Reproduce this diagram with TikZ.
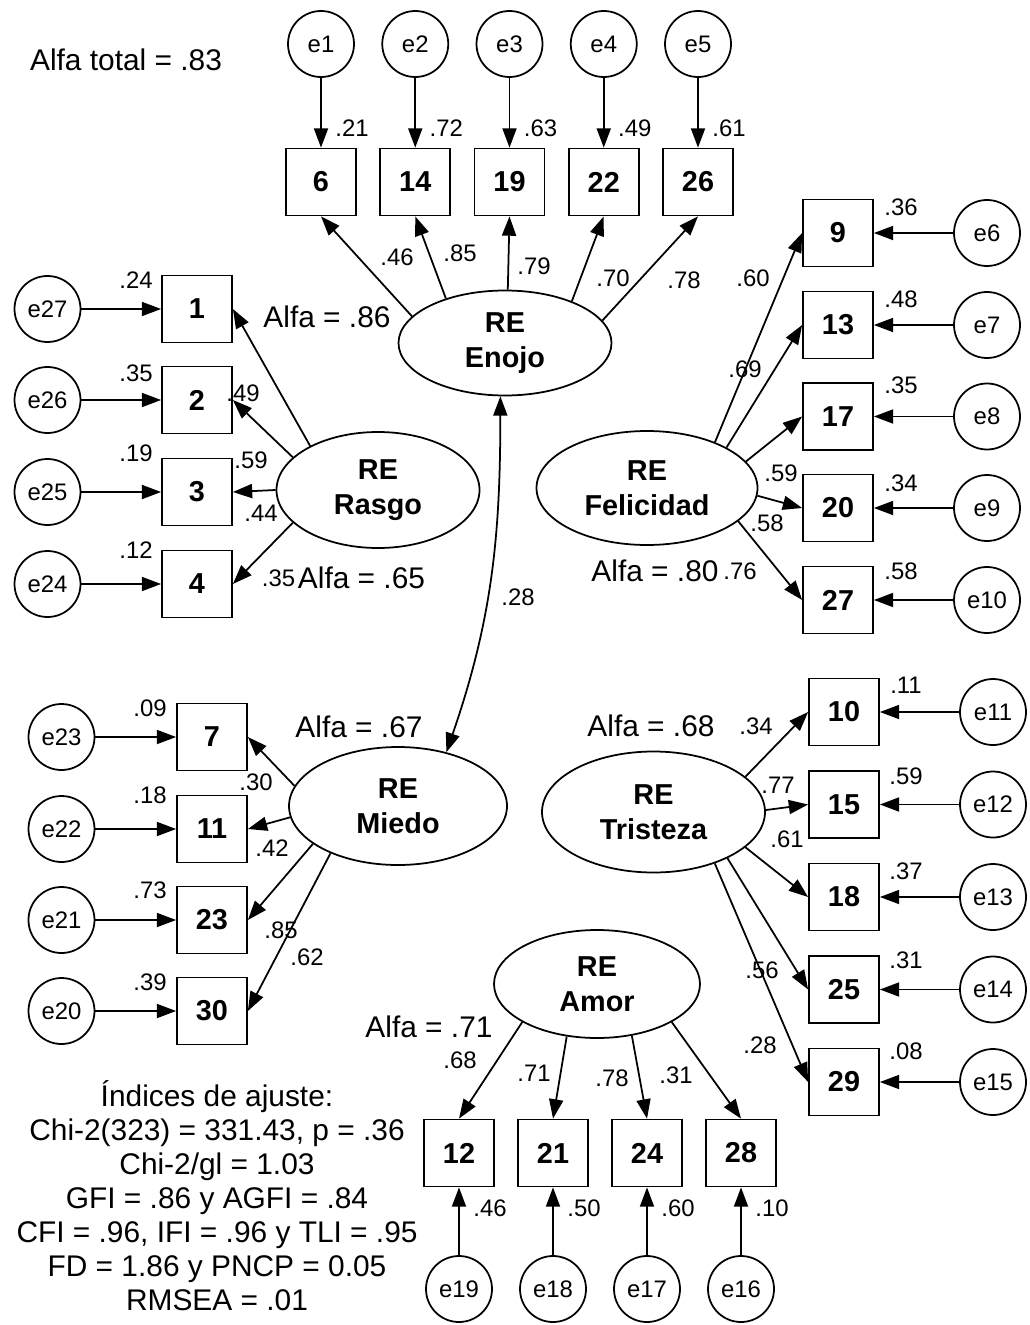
\documentclass[tikz,border=0pt]{standalone}
\usepackage{fontspec}
\setmainfont{Liberation Sans}
\usetikzlibrary{shapes.geometric,arrows.meta}

\begin{document}
\begin{tikzpicture}[
  line width=1pt,
  obs/.style={draw,minimum width=1.4cm,minimum height=1.34cm,inner sep=0pt,
              font=\fontsize{16.4}{19}\selectfont\bfseries},
  err/.style={draw,circle,minimum size=1.32cm,inner sep=0pt,
              font=\fontsize{13.6}{16}\selectfont},
  latent/.style={draw,ellipse,inner sep=0pt,align=center,
              font=\fontsize{16.4}{19.8}\selectfont\bfseries},
  coef/.style={inner sep=0pt,font=\fontsize{13.6}{16}\selectfont},
  alfa/.style={inner sep=0pt,font=\fontsize{17}{19.3}\selectfont},
  loading/.style={-{Triangle[length=11pt,width=8pt]}},
  erarrow/.style={-{Triangle[length=11pt,width=8pt]}},
  cov/.style={{Triangle[length=11pt,width=8pt]}-{Triangle[length=11pt,width=8pt]}}
]
  \useasboundingbox (0,0) rectangle (20.58,-26.5);

  % Latent factors
  \node[latent,minimum width=4.26cm,minimum height=2.1cm]  (enojo) at (10.10,-6.86) {RE\\Enojo};
  \node[latent,minimum width=4.06cm,minimum height=2.32cm] (rasgo) at (7.56,-9.80) {RE\\Rasgo};
  \node[latent,minimum width=4.42cm,minimum height=2.28cm] (felic) at (12.94,-9.76) {RE\\Felicidad};
  \node[latent,minimum width=4.36cm,minimum height=2.36cm] (miedo) at (7.96,-16.12) {RE\\Miedo};
  \node[latent,minimum width=4.46cm,minimum height=2.42cm] (trist) at (13.07,-16.24) {RE\\Tristeza};
  \node[latent,minimum width=4.12cm,minimum height=2.16cm] (amor)  at (11.94,-19.68) {RE\\Amor};

  % Enojo items
  \foreach \e/\i/\x/\res in {1/6/6.42/.21, 2/14/8.305/.72, 3/19/10.19/.63, 4/22/12.075/.49, 5/26/13.96/.61}{
    \node[err] (e\e) at (\x,-0.88) {e\e};
    \node[obs] (i\i) at (\x,-3.64) {\i};
    \node[coef] (r\i) at ({\x+0.62},-2.56) {\res};
    \draw[erarrow] (e\e) -- (i\i);
  }
  \foreach \i/\a/\lx/\ly/\lbl in {6/164/7.94/-5.14/.46, 14/143/9.20/-5.06/.85, 19/87/10.68/-5.32/.79,
                                 22/32/12.26/-5.56/.70, 26/13/13.68/-5.60/.78}{
    \draw[loading] (enojo.\a) -- (i\i.south);
    \node[coef] (l\i) at (\lx,\ly) {\lbl};
  }

  % Rasgo items
  \foreach \e/\i/\y/\res/\ry in {27/1/-6.18/.24/-5.60, 26/2/-8.00/.35/-7.46, 25/3/-9.84/.19/-9.06, 24/4/-11.68/.12/-11.00}{
    \node[err] (e\e) at (0.95,\y) {e\e};
    \node[obs] (i\i) at (3.94,\y) {\i};
    \node[coef] (r\i) at (2.72,\ry) {\res};
    \draw[erarrow] (e\e) -- (i\i);
  }
  \foreach \i/\a/\lx/\ly/\lbl in {1/147/4.86/-7.86/.49, 2/159/5.02/-9.20/.59, 3/180/5.22/-10.26/.44, 4/201/5.57/-11.56/.35}{
    \draw[loading] (rasgo.\a) -- (i\i.east);
    \node[coef] (l\i) at (\lx,\ly) {\lbl};
  }

  % Felicidad items
  \foreach \e/\i/\y/\res/\ry in {6/9/-4.66/.36/-4.14, 7/13/-6.50/.48/-5.98, 8/17/-8.33/.35/-7.70,
                                9/20/-10.16/.34/-9.66, 10/27/-12.00/.58/-11.42}{
    \node[err] (e\e) at (19.74,\y) {e\e};
    \node[obs] (i\i) at (16.76,\y) {\i};
    \node[coef] (r\i) at (18.02,\ry) {\res};
    \draw[erarrow] (e\e) -- (i\i);
  }
  \foreach \i/\a/\lx/\ly/\lbl in {9/34/15.06/-5.56/.60, 13/27/14.90/-7.38/.69, 17/15/15.62/-9.46/.59,
                                 20/356/15.34/-10.46/.58, 27/340/14.80/-11.42/.76}{
    \draw[loading] (felic.\a) -- (i\i.west);
    \node[coef] (l\i) at (\lx,\ly) {\lbl};
  }

  % Miedo items
  \foreach \e/\i/\y/\res/\ry in {23/7/-14.74/.09/-14.16, 22/11/-16.58/.18/-15.90, 21/23/-18.40/.73/-17.80, 20/30/-20.22/.39/-19.64}{
    \node[err] (e\e) at (1.23,\y) {e\e};
    \node[obs] (i\i) at (4.24,\y) {\i};
    \node[coef] (r\i) at (3.00,\ry) {\res};
    \draw[erarrow] (e\e) -- (i\i);
  }
  \foreach \i/\a/\lx/\ly/\lbl in {7/169/5.12/-15.64/.30, 11/186/5.44/-16.96/.42, 23/204/5.62/-18.60/.85, 30/215/6.14/-19.14/.62}{
    \draw[loading] (miedo.\a) -- (i\i.east);
    \node[coef] (l\i) at (\lx,\ly) {\lbl};
  }

  % Tristeza items
  \foreach \e/\i/\y/\res/\ry in {11/10/-14.24/.11/-13.70, 12/15/-16.09/.59/-15.52, 13/18/-17.94/.37/-17.42,
                                14/25/-19.79/.31/-19.20, 15/29/-21.64/.08/-21.02}{
    \node[err] (e\e) at (19.86,\y) {e\e};
    \node[obs] (i\i) at (16.88,\y) {\i};
    \node[coef] (r\i) at (18.12,\ry) {\res};
    \draw[erarrow] (e\e) -- (i\i);
  }
  \foreach \i/\a/\lx/\ly/\lbl in {10/21/15.12/-14.52/.34, 15/1/15.56/-15.70/.77, 18/339/15.74/-16.78/.61,
                                 25/328/15.24/-19.40/.56, 29/320/15.20/-20.90/.28}{
    \draw[loading] (trist.\a) -- (i\i.west);
    \node[coef] (l\i) at (\lx,\ly) {\lbl};
  }

  % Amor items
  \foreach \e/\i/\x/\res in {19/12/9.18/.46, 18/21/11.06/.50, 17/24/12.94/.60, 16/28/14.82/.10}{
    \node[err] (e\e) at (\x,-25.78) {e\e};
    \node[obs] (i\i) at (\x,-23.06) {\i};
    \node[coef] (r\i) at ({\x+0.62},-24.16) {\res};
    \draw[erarrow] (e\e) -- (i\i);
  }
  \foreach \i/\a/\lx/\ly/\lbl in {12/207/9.20/-21.20/.68, 21/240/10.68/-21.46/.71, 24/304/12.24/-21.56/.78, 28/333/13.52/-21.50/.31}{
    \draw[loading] (amor.\a) -- (i\i.north);
    \node[coef] (l\i) at (\lx,\ly) {\lbl};
  }

  % Covariance Enojo - Miedo
  \draw[cov] (enojo.265) to[out=-90,in=71] (miedo.48);
  \node[coef] (c28) at (10.36,-11.94) {.28};

  % Reliabilities
  \node[alfa] (atotal) at (2.52,-1.20) {Alfa total = .83};
  \node[alfa] (aenojo) at (6.54,-6.34) {Alfa = .86};
  \node[alfa] (arasgo) at (7.23,-11.56) {Alfa = .65};
  \node[alfa] (afelic) at (13.10,-11.42) {Alfa = .80};
  \node[alfa] (amiedo) at (7.18,-14.54) {Alfa = .67};
  \node[alfa] (atrist) at (13.02,-14.52) {Alfa = .68};
  \node[alfa] (aamor)  at (8.58,-20.54) {Alfa = .71};

  % Fit indices
  \node[alfa,align=center] (fit) at (4.34,-23.91)
    {Índices de ajuste:\\Chi-2(323) = 331.43, p = .36\\Chi-2/gl = 1.03\\GFI = .86 y AGFI = .84\\
     CFI = .96, IFI = .96 y TLI = .95\\FD = 1.86 y PNCP = 0.05\\RMSEA = .01};
\end{tikzpicture}
\end{document}
